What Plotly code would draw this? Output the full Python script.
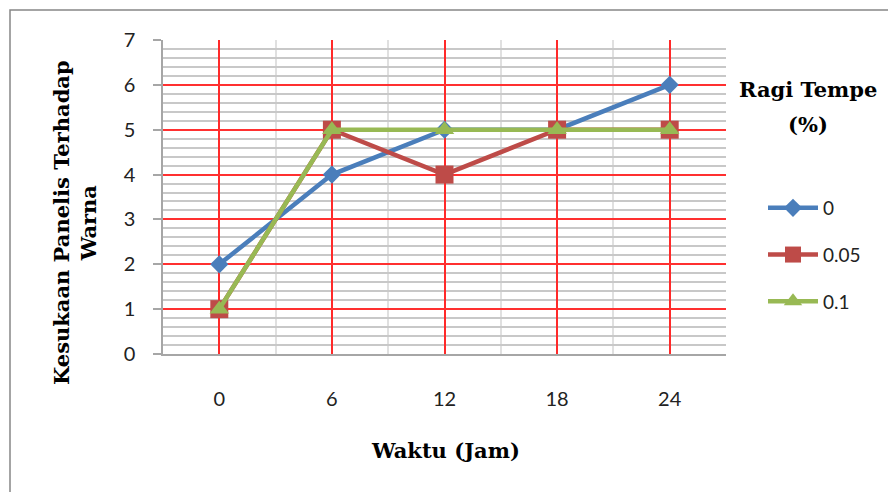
import plotly.graph_objects as go

# Time points (hours) and panel colour-preference scores per tempeh-yeast level
waktu = [0, 6, 12, 18, 24]
series_names = ["0", "0.05", "0.1"]
skor_0 = [2, 4, 5, 5, 6]
skor_005 = [1, 5, 4, 5, 5]
skor_01 = [1, 5, 5, 5, 5]

W, H = 888, 492
ML, MR, MT, MB = 163, 162, 40, 138
PW, PH = W - ML - MR, H - MT - MB


def px_x(p):
    return (p - ML) / PW


def px_y(p):
    return (H - MB - p) / PH


# Minor grid positions: halfway between categories, and every 0.2 on the score
# axis, skipping the places where a major (red) grid line already sits.
x_minor = [v + 3 for v in range(-6, 25, 6)]
y_minor = [round(i * 0.2, 1) for i in range(0, 36) if i % 5 != 0]

styles = [
    dict(color="#4a7ebb", symbol="diamond", size=14),
    dict(color="#be4b48", symbol="square", size=18),
    dict(color="#98b954", symbol="triangle-up", size=17),
]

fig = go.Figure()
for i, (name, vals) in enumerate(zip(series_names, [skor_0, skor_005, skor_01])):
    st = styles[i]
    fig.add_trace(go.Scatter(
        x=waktu, y=vals, name=name, mode="lines+markers",
        legendgroup=name,
        line=dict(color=st["color"], width=4.5),
        marker=dict(color=st["color"], symbol=st["symbol"], size=st["size"],
                    line=dict(width=0)),
    ))

tick_font = dict(family="Lato, Liberation Sans, sans-serif", size=20, color="#222")
title_font = dict(family="DejaVu Serif", size=21, color="#000")

fig.update_layout(
    width=W, height=H,
    margin=dict(l=ML, r=MR, t=MT, b=MB),
    paper_bgcolor="white", plot_bgcolor="white",
    showlegend=True,
    legend=dict(
        x=px_x(763), y=px_y(189), xanchor="left", yanchor="top",
        font=dict(family="Lato, Liberation Sans, sans-serif", size=19, color="#222"),
        tracegroupgap=19, itemwidth=50, bgcolor="rgba(0,0,0,0)",
    ),
    xaxis=dict(
        range=[-3, 27], tickvals=waktu, ticktext=[str(v) for v in waktu],
        showgrid=True, gridcolor="#ff2a2a", gridwidth=2,
        minor=dict(tickmode="array", tickvals=x_minor, showgrid=True,
                   gridcolor="#e0e0e0", gridwidth=2, ticklen=0),
        showline=True, linecolor="#a6a6a6", linewidth=1.5,
        ticks="", tickfont=tick_font, zeroline=False, ticklabelstandoff=26,
        fixedrange=True,
    ),
    yaxis=dict(
        range=[0, 7], dtick=1, tick0=0,
        showgrid=True, gridcolor="#ff3030", gridwidth=2,
        minor=dict(tickmode="array", tickvals=y_minor, showgrid=True,
                   gridcolor="#c8c8c8", gridwidth=2, ticklen=0),
        showline=True, linecolor="#a6a6a6", linewidth=1.5,
        ticks="outside", ticklen=8, tickcolor="#a6a6a6", tickwidth=1.5,
        tickfont=tick_font, zeroline=False, ticklabelstandoff=14,
        fixedrange=True,
    ),
    annotations=[
        dict(text="<b>Kesukaan Panelis Terhadap<br>Warna</b>", textangle=-90,
             xref="paper", yref="paper", x=px_x(75), y=px_y(222),
             xanchor="center", yanchor="middle", showarrow=False,
             font=title_font, align="center"),
        dict(text="<b>Waktu (Jam)</b>",
             xref="paper", yref="paper", x=px_x(445), y=px_y(450),
             xanchor="center", yanchor="middle", showarrow=False, font=title_font),
        dict(text="<b>Ragi Tempe</b>",
             xref="paper", yref="paper", x=px_x(808), y=px_y(90),
             xanchor="center", yanchor="middle", showarrow=False, font=title_font),
        dict(text="<b>(%)</b>",
             xref="paper", yref="paper", x=px_x(808), y=px_y(124),
             xanchor="center", yanchor="middle", showarrow=False, font=title_font),
    ],
    shapes=[
        dict(type="rect", xref="paper", yref="paper",
             x0=px_x(10), x1=px_x(900), y0=px_y(505), y1=px_y(10),
             line=dict(color="#868686", width=1.5), fillcolor="rgba(0,0,0,0)",
             layer="below"),
    ],
)

fig.write_html("out.html", config=dict(displayModeBar=False))
